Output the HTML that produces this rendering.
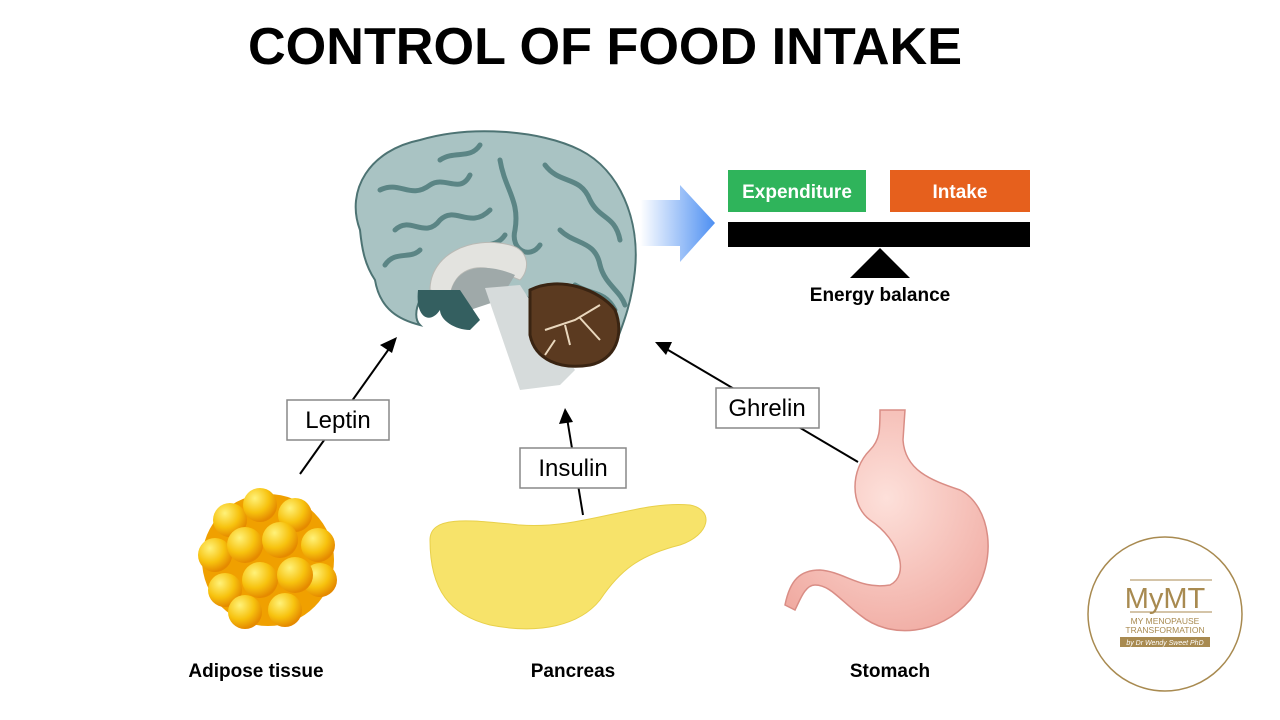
<!DOCTYPE html>
<html><head><meta charset="utf-8"><style>
html,body{margin:0;padding:0;background:#fff;}
svg{display:block;font-family:"Liberation Sans",sans-serif;}
</style></head><body>
<svg width="1280" height="720" viewBox="0 0 1280 720" xmlns="http://www.w3.org/2000/svg">
<defs>
<linearGradient id="bg" x1="0" x2="1"><stop offset="0" stop-color="#fff"/><stop offset="1" stop-color="#4d8ff2"/></linearGradient>
<radialGradient id="fat" cx="0.35" cy="0.3" r="0.7"><stop offset="0" stop-color="#fff27a"/><stop offset="0.6" stop-color="#f7c20e"/><stop offset="1" stop-color="#e58a00"/></radialGradient>
<radialGradient id="st" cx="0.5" cy="0.4" r="0.7"><stop offset="0" stop-color="#fde0da"/><stop offset="1" stop-color="#f0a9a0"/></radialGradient>
</defs>
<text x="248" y="64" font-size="52" font-weight="bold" textLength="714" lengthAdjust="spacingAndGlyphs">CONTROL OF FOOD INTAKE</text>

<!-- brain -->
<path d="M360,230 C345,190 370,150 420,140 C470,125 540,130 580,150 C620,170 640,220 635,270 C632,300 625,320 615,345 L560,330 L520,290 L450,290 L420,300 C415,310 415,320 420,325 C400,320 380,310 375,280 C365,265 362,250 360,230Z" fill="#a9c3c3" stroke="#4d7373" stroke-width="2"/>
<g stroke="#5b8585" stroke-width="5" fill="none" stroke-linecap="round">
<path d="M380,190 C400,180 410,200 430,185 C445,175 460,195 470,175"/>
<path d="M395,230 C410,215 425,240 440,220 C455,205 470,230 490,210"/>
<path d="M500,160 C505,190 520,200 515,230 C510,250 530,260 540,245"/>
<path d="M545,165 C560,185 580,175 590,200 C600,220 615,215 620,240"/>
<path d="M560,230 C575,245 595,240 600,265 C605,285 620,290 625,305"/>
<path d="M440,160 C455,150 470,160 480,145"/>
<path d="M385,265 C395,250 410,260 420,250"/>
<path d="M470,255 C480,240 495,250 505,235"/>
<path d="M575,285 C590,295 605,290 615,310"/>
</g>
<path d="M430,290 C430,255 470,235 510,245 C530,250 530,270 520,280 L500,272 C475,262 455,270 450,295 Z" fill="#e3e3df" stroke="#b9b9b4"/>
<path d="M450,295 C455,265 485,262 515,275 L500,300 L470,310 Z" fill="#9fa9a9"/>
<path d="M418,290 L460,290 L480,320 L470,330 C455,330 440,320 440,310 C430,325 415,318 418,290Z" fill="#345f60"/>
<path d="M485,288 L520,285 L575,370 L560,385 L520,390 Z" fill="#d6dbdb"/>
<path d="M530,290 C560,275 600,290 615,310 C625,335 615,360 590,365 C560,370 535,360 530,335 Z" fill="#5b3a20" stroke="#3a2412" stroke-width="3"/>
<g stroke="#e9d7bd" stroke-width="2" fill="none"><path d="M545,330 L575,320 L600,305 M565,325 L570,345 M580,318 L600,340 M555,340 L545,355"/></g>

<!-- blue arrow -->
<path d="M640,200 L680,200 L680,185 L715,223 L680,262 L680,246 L640,246 Z" fill="url(#bg)"/>

<!-- balance -->
<rect x="728" y="170" width="138" height="42" fill="#2fb45b"/>
<text x="797" y="198" font-size="19" font-weight="bold" fill="#fff" text-anchor="middle">Expenditure</text>
<rect x="890" y="170" width="140" height="42" fill="#e6601d"/>
<text x="960" y="198" font-size="19" font-weight="bold" fill="#fff" text-anchor="middle">Intake</text>
<rect x="728" y="222" width="302" height="25" fill="#000"/>
<polygon points="880,248 850,278 910,278" fill="#000"/>
<text x="880" y="301" font-size="19" font-weight="bold" text-anchor="middle">Energy balance</text>

<!-- arrows -->
<g stroke="#000" stroke-width="2">
<line x1="300" y1="474" x2="391" y2="346"/>
<line x1="583" y1="515" x2="567" y2="418"/>
<line x1="858" y1="462" x2="663" y2="347"/>
</g>
<polygon points="397,337 380,345 392,353" fill="#000"/>
<polygon points="565,408 559,424 573,422" fill="#000"/>
<polygon points="655,342 666,355 672,342" fill="#000"/>
<g fill="#fff" stroke="#888" stroke-width="1.5">
<rect x="287" y="400" width="102" height="40"/>
<rect x="520" y="448" width="106" height="40"/>
<rect x="716" y="388" width="103" height="40"/>
</g>
<g font-size="24" text-anchor="middle">
<text x="338" y="428">Leptin</text>
<text x="573" y="476">Insulin</text>
<text x="767" y="416">Ghrelin</text>
</g>

<!-- fat -->
<g fill="url(#fat)">
<circle cx="268" cy="560" r="66" fill="#f0a000"/>
<circle cx="230" cy="520" r="17"/><circle cx="260" cy="505" r="17"/><circle cx="295" cy="515" r="17"/><circle cx="318" cy="545" r="17"/>
<circle cx="215" cy="555" r="17"/><circle cx="245" cy="545" r="18"/><circle cx="280" cy="540" r="18"/><circle cx="320" cy="580" r="17"/>
<circle cx="225" cy="590" r="17"/><circle cx="260" cy="580" r="18"/><circle cx="295" cy="575" r="18"/><circle cx="245" cy="612" r="17"/><circle cx="285" cy="610" r="17"/>
</g>
<!-- pancreas -->
<path d="M430,540 C430,515 470,520 520,525 C580,530 640,500 690,505 C715,510 710,535 680,545 C640,555 620,570 600,600 C580,625 540,635 490,625 C450,615 430,590 430,540Z" fill="#f7e36a" stroke="#e8d04a"/>
<!-- stomach -->
<path d="M880,410 L905,410 L903,440 C905,470 930,480 960,490 C990,505 1000,560 970,600 C940,635 890,640 860,615 C840,600 830,585 815,585 C805,585 800,600 795,610 L785,605 C790,580 800,570 820,570 C845,572 860,590 890,585 C910,575 900,540 870,520 C850,505 850,470 870,450 C880,440 880,430 880,410Z" fill="url(#st)" stroke="#d98d85" stroke-width="1.5"/>

<g font-size="19" font-weight="bold" text-anchor="middle">
<text x="256" y="677">Adipose tissue</text>
<text x="573" y="677">Pancreas</text>
<text x="890" y="677">Stomach</text>
</g>

<!-- logo -->
<circle cx="1165" cy="614" r="77" fill="#fff" stroke="#a88a50" stroke-width="1.5"/>
<line x1="1130" y1="580" x2="1212" y2="580" stroke="#a88a50"/>
<text x="1165" y="608" font-size="29" fill="#a88a50" text-anchor="middle">MyMT</text>
<line x1="1130" y1="612" x2="1212" y2="612" stroke="#a88a50"/>
<text x="1165" y="624" font-size="8.5" fill="#a88a50" text-anchor="middle">MY MENOPAUSE</text>
<text x="1165" y="633" font-size="8.5" fill="#a88a50" text-anchor="middle">TRANSFORMATION</text>
<rect x="1120" y="637" width="90" height="10" fill="#a88a50"/>
<text x="1165" y="645" font-size="7" font-style="italic" fill="#fff" text-anchor="middle">by Dr Wendy Sweet PhD</text>
</svg>
</body></html>
